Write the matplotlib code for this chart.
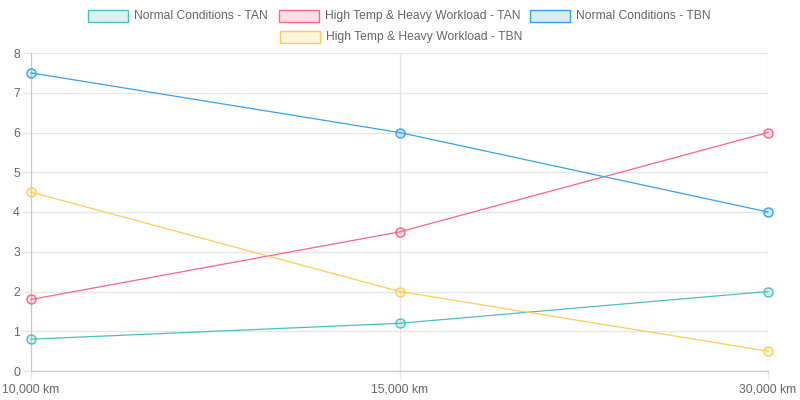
import matplotlib
matplotlib.use("Agg")
import matplotlib.pyplot as plt
from matplotlib.patches import Rectangle

categories = ["10,000 km", "15,000 km", "30,000 km"]
series_names = ["Normal Conditions - TAN", "High Temp & Heavy Workload - TAN",
                "Normal Conditions - TBN", "High Temp & Heavy Workload - TBN"]
normal_tan = [0.8, 1.2, 2.0]
heavy_tan = [1.8, 3.5, 6.0]
normal_tbn = [7.5, 6.0, 4.0]
heavy_tbn = [4.5, 2.0, 0.5]
y_ticks = [0, 1, 2, 3, 4, 5, 6, 7, 8]

colors = [(75/255, 192/255, 192/255), (255/255, 99/255, 132/255),
          (54/255, 162/255, 235/255), (255/255, 205/255, 86/255)]
values = [normal_tan, heavy_tan, normal_tbn, heavy_tbn]

plt.rcParams['font.family'] = ['Liberation Sans', 'DejaVu Sans']
fig = plt.figure(figsize=(8, 4), dpi=100)
ax = fig.add_axes([31/800, 29/400, 737/800, 318/400])

x = list(range(len(categories)))
for name, vals, c in zip(series_names, values, colors):
    ax.plot(x, vals, color=c, lw=0.9, marker='o', ms=6.5,
            markerfacecolor=(*c, 0.2), markeredgecolor=c, markeredgewidth=1,
            clip_on=False, zorder=3)

ax.set_xlim(0, len(categories) - 1)
ax.set_ylim(0, 8)
ax.set_xticks(x)
ax.set_xticklabels(categories)
ax.set_yticks(y_ticks)
grid_c = '#e6e6e6'
ax.grid(True, color=grid_c, lw=1)
ax.set_axisbelow(True)
for s in ['top', 'right']:
    ax.spines[s].set_visible(False)
for s in ['left', 'bottom']:
    ax.spines[s].set_color('#c8c8c8')
ax.tick_params(axis='both', colors=grid_c, labelcolor='#666666', labelsize=8.7, length=6, width=1)
ax.tick_params(axis='x', pad=3)
ax.tick_params(axis='y', pad=2)

# legend
rows = [[(88, 0), (279, 1), (530, 2)], [(280, 3)]]
row_y = [16, 37]
for r, items in enumerate(rows):
    yc = row_y[r]
    for xl, i in items:
        c = colors[i]
        fig.patches.append(Rectangle((xl/800, (400-yc-6)/400), 40/800, 12/400,
                                     transform=fig.transFigure, facecolor=(*c, 0.2),
                                     edgecolor=c, lw=1))
        fig.text((xl+46)/800, (400-yc)/400, series_names[i], color='#666666',
                 fontsize=8.7, va='center', ha='left')

fig.savefig("out.png", dpi=100)
